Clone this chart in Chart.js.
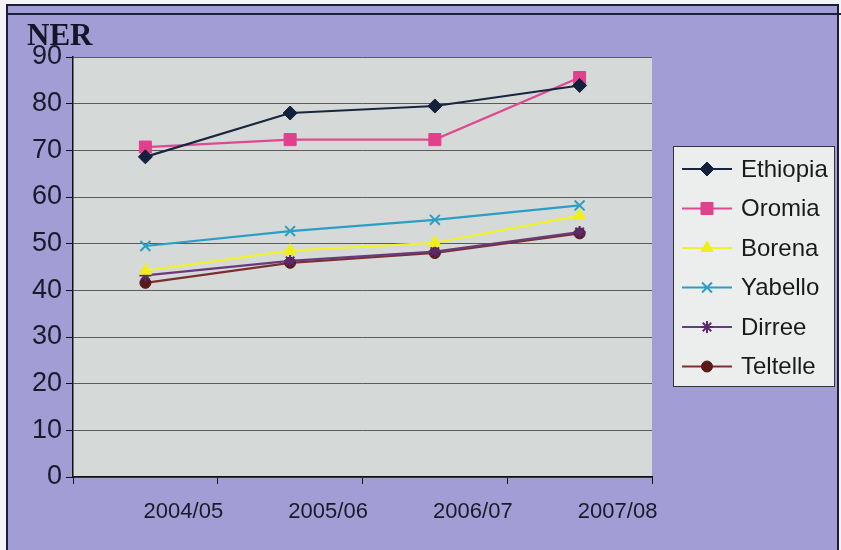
<!DOCTYPE html>
<html>
<head>
<meta charset="utf-8">
<script src="https://cdn.jsdelivr.net/npm/chart.js@4.4.1/dist/chart.umd.min.js"></script>
<style>
  html, body { margin: 0; padding: 0; background: #f4f4f8; }
  #wrap { position: relative; width: 841px; height: 550px; overflow: hidden; }
  #frame {
    position: absolute; left: 6px; top: 4px; width: 833px; height: 560px;
    background: #a29dd5; border: 2px solid #1c1c3c; box-sizing: border-box;
  }
  #rule { position: absolute; left: 6px; top: 13px; width: 835px; height: 2px; background: #1c1c3c; }
  canvas { position: absolute; left: 0; top: 0; }
</style>
</head>
<body>
<div id="wrap">
  <div id="frame"></div>
  <div id="rule"></div>
  <canvas id="c" width="841" height="550"></canvas>
</div>
<script>
// School years on the x axis
const years = ['2004/05', '2005/06', '2006/07', '2007/08'];

// Net enrolment ratio (%) per area
const ethiopia = [68.6, 78.0, 79.5, 83.9];
const oromia   = [70.7, 72.3, 72.3, 85.6];
const borena   = [44.2, 48.5, 50.2, 56.0];
const yabello  = [49.5, 52.7, 55.1, 58.2];
const dirree   = [43.2, 46.3, 48.3, 52.5];
const teltelle = [41.6, 45.9, 48.0, 52.2];

// Y axis range
const yMin = 0, yMax = 90, yStep = 10;

function series(label, data, line, fill, style, radius, bw) {
  return {
    label, data,
    borderColor: line, borderWidth: 2.2,
    pointStyle: style, pointRadius: radius, pointHoverRadius: radius,
    pointBackgroundColor: fill, pointBorderColor: fill, pointBorderWidth: bw,
    tension: 0, fill: false
  };
}

const datasets = [
  series('Ethiopia', ethiopia, '#1a2540', '#14213d', 'rectRot', 7, 1),
  series('Oromia',   oromia,   '#e04890', '#e0408c', 'rect', 8.5, 1),
  series('Borena',   borena,   '#f2f22a', '#f0f018', 'triangle', 7, 1),
  series('Yabello',  yabello,  '#2a9ec4', '#2a9ec4', 'crossRot', 7, 2),
  series('Dirree',   dirree,   '#6a3a7a', '#5a2a6a', 'star', 6, 2),
  series('Teltelle', teltelle, '#7a3030', '#5a1a1a', 'circle', 5.5, 1)
];

// Plot-area fill, heading and the boxed legend on the right
const decor = {
  id: 'decor',
  beforeDraw(chart) {
    const { ctx, chartArea: a } = chart;
    ctx.save();
    ctx.fillStyle = '#d5dad8';
    ctx.fillRect(a.left, a.top, a.right - a.left, a.bottom - a.top);
    ctx.restore();
  },
  afterDraw(chart) {
    const ctx = chart.ctx;
    ctx.save();
    ctx.fillStyle = '#15152a';
    ctx.font = "bold 31px 'Liberation Serif'";
    ctx.textBaseline = 'alphabetic';
    ctx.fillText('NER', 27, 45);

    // legend box
    const bx = 673, by = 146, bw = 161, bh = 240;
    ctx.fillStyle = '#eceeed';
    ctx.fillRect(bx, by, bw, bh);
    ctx.strokeStyle = '#333';
    ctx.lineWidth = 1;
    ctx.strokeRect(bx + 0.5, by + 0.5, bw, bh);

    chart.data.datasets.forEach((ds, i) => {
      const y = by + 23 + i * 39.5;
      ctx.strokeStyle = ds.borderColor;
      ctx.lineWidth = 2;
      ctx.beginPath();
      ctx.moveTo(682, y);
      ctx.lineTo(732, y);
      ctx.stroke();
      ctx.fillStyle = ds.pointBackgroundColor;
      ctx.strokeStyle = ds.pointBorderColor;
      ctx.lineWidth = ds.pointBorderWidth;
      Chart.helpers.drawPoint(ctx, {
        pointStyle: ds.pointStyle, radius: ds.pointRadius, rotation: 0,
        borderWidth: ds.pointBorderWidth
      }, 707, y);
      ctx.fillStyle = '#1a1a1a';
      ctx.font = "24px 'Liberation Sans'";
      ctx.textBaseline = 'middle';
      ctx.fillText(ds.label, 741, y + 1);
    });
    ctx.restore();
  }
};

new Chart(document.getElementById('c'), {
  type: 'line',
  data: { labels: years, datasets },
  options: {
    responsive: false,
    devicePixelRatio: 1,
    animation: false,
    layout: { padding: { left: 0, top: 57, right: 189, bottom: 0 } },
    plugins: { legend: { display: false }, tooltip: { enabled: false }, title: { display: false } },
    scales: {
      x: {
        type: 'category',
        offset: true,
        afterFit(s) { s.height = 73; },
        grid: { display: true, offset: true, drawOnChartArea: false, drawTicks: true, tickLength: 7, color: '#111', lineWidth: 1 },
        border: { display: true, color: '#111', width: 1.5 },
        ticks: {
          labelOffset: 38, padding: 15, color: '#1a1a2a', maxRotation: 0,
          font: { family: 'Liberation Sans', size: 22 }
        }
      },
      y: {
        min: yMin, max: yMax,
        afterFit(s) { s.width = 73; },
        grid: { color: '#5a5a5a', lineWidth: 1, drawTicks: true, tickLength: 7, tickColor: '#111' },
        border: { display: true, color: '#111', width: 1.5 },
        ticks: {
          stepSize: yStep, padding: 4, color: '#1a1a2a',
          font: { family: 'Liberation Sans', size: 27 }
        }
      }
    }
  },
  plugins: [decor]
});
</script>
</body>
</html>
